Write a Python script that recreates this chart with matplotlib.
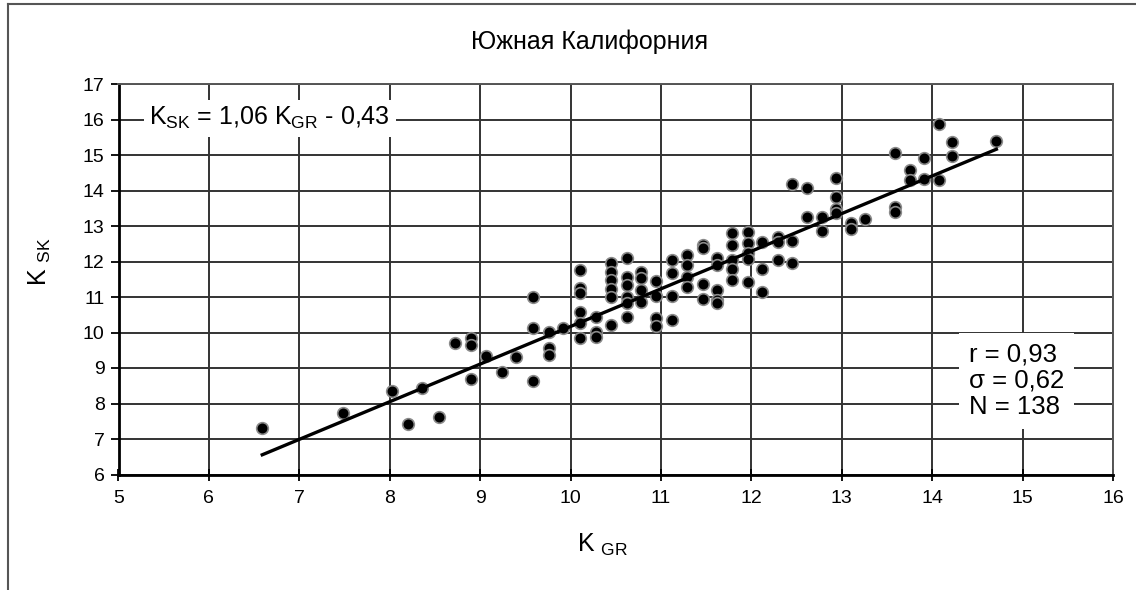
import matplotlib
matplotlib.use("Agg")
import matplotlib.pyplot as plt
from matplotlib.lines import Line2D
import numpy as np

plt.rcParams['font.family'] = ['Liberation Sans', 'DejaVu Sans']
plt.rcParams['mathtext.fontset'] = 'custom'
plt.rcParams['mathtext.rm'] = 'Liberation Sans'
plt.rcParams['mathtext.it'] = 'Liberation Sans'

# ---- data ----
k_gr = [6.59, 7.48, 8.02, 8.20, 8.36, 8.54, 8.72, 8.90, 8.90, 8.90,
        9.07, 9.24, 9.40, 9.58, 9.58, 9.58, 9.76, 9.76, 9.76, 9.92,
        10.11, 10.11, 10.11, 10.11, 10.11, 10.11, 10.28, 10.28, 10.28,
        10.45, 10.45, 10.45, 10.45, 10.45, 10.45,
        10.62, 10.62, 10.62, 10.62, 10.62, 10.62,
        10.78, 10.78, 10.78, 10.78,
        10.95, 10.95, 10.95, 10.95,
        11.12, 11.12, 11.12, 11.12,
        11.29, 11.29, 11.29, 11.29,
        11.46, 11.46, 11.46, 11.46,
        11.62, 11.62, 11.62, 11.62, 11.62,
        11.79, 11.79, 11.79, 11.79, 11.79,
        11.96, 11.96, 11.96, 11.96, 11.96,
        12.12, 12.12, 12.12,
        12.29, 12.29, 12.29,
        12.45, 12.45, 12.45,
        12.62, 12.62, 12.78, 12.78,
        12.94, 12.94, 12.94, 12.94,
        13.10, 13.10, 13.26,
        13.59, 13.59, 13.59, 13.76, 13.76, 13.91, 13.91,
        14.07, 14.07, 14.22, 14.22, 14.71]
k_sk = [7.31, 7.73, 8.35, 7.42, 8.44, 7.62, 9.70, 9.85, 9.65, 8.69,
        9.34, 8.89, 9.31, 11.00, 10.13, 8.63, 10.01, 9.56, 9.37, 10.13,
        11.76, 11.25, 11.11, 10.58, 10.27, 9.85, 10.44, 10.01, 9.87,
        11.96, 11.70, 11.48, 11.23, 11.00, 10.21,
        12.10, 11.56, 11.34, 11.00, 10.83, 10.44,
        11.70, 11.54, 11.20, 10.86,
        11.45, 11.03, 10.41, 10.18,
        12.04, 11.68, 11.03, 10.35,
        12.18, 11.90, 11.56, 11.28,
        12.46, 12.38, 11.37, 10.94,
        12.10, 11.90, 11.20, 10.92, 10.83,
        12.80, 12.46, 12.04, 11.79, 11.48,
        12.83, 12.52, 12.24, 12.07, 11.42,
        12.55, 11.79, 11.14,
        12.69, 12.55, 12.04,
        14.18, 12.58, 11.96,
        14.07, 13.25, 13.25, 12.86,
        14.35, 13.82, 13.48, 13.37,
        13.08, 12.92, 13.20,
        15.06, 13.54, 13.39, 14.58, 14.30, 14.92, 14.32,
        14.30, 15.87, 15.37, 14.97, 15.39]

fit_slope = 1.06
fit_intercept = -0.43
title = "Южная Калифорния"
equation = r"K$_{\mathregular{SK}}$ = 1,06 K$_{\mathregular{GR}}$ - 0,43"
stats = "r = 0,93\nσ = 0,62\nN = 138"
x_ticks = list(range(5, 17))
y_ticks = list(range(6, 18))

# ---- figure ----
fig = plt.figure(figsize=(11.36, 5.90), dpi=100)
ax = fig.add_axes([118.5 / 1136, 1 - 474.5 / 590, (1113 - 118.5) / 1136, (474.5 - 84) / 590])

ax.set_xlim(5, 16)
ax.set_ylim(6, 17)
ax.set_xticks(x_ticks)
ax.set_yticks(y_ticks)
ax.grid(True, color='#333333', linewidth=1.4, zorder=0)
ax.set_axisbelow(True)

for side in ['top', 'right']:
    ax.spines[side].set_color('#555555')
    ax.spines[side].set_linewidth(1.4)
for side in ['left', 'bottom']:
    ax.spines[side].set_color('black')
    ax.spines[side].set_linewidth(2.0)

ax.tick_params(axis='y', direction='out', length=6, width=1.3, labelsize=14, pad=4)
ax.tick_params(axis='x', direction='inout', length=8, width=1.3, labelsize=14, pad=7)

ax.scatter(k_gr, k_sk, s=70, c='black', edgecolors='#8a8a8a', linewidths=1.2, zorder=3)

xf = np.array([min(k_gr), max(k_gr)])
ax.plot(xf, fit_slope * xf + fit_intercept, color='black', linewidth=2.4, zorder=4)

ax.text(0.031, 0.912, equation, transform=ax.transAxes, fontsize=18, va='center', ha='left',
        bbox=dict(facecolor='white', edgecolor='none', pad=4), zorder=5)
ax.text(0.855, 0.240, stats, transform=ax.transAxes, fontsize=18.5, va='center', ha='left',
        linespacing=1.12,
        bbox=dict(facecolor='white', edgecolor='none', pad=7), zorder=5)

fig.text(590 / 1136, 1 - 42 / 590, title, fontsize=18, ha='center', va='center')
fig.text(603 / 1136, 1 - 545 / 590, r"K $_{\mathregular{GR}}$", fontsize=18, ha='center', va='center')
fig.text(40 / 1136, 1 - 262 / 590, r"K $_{\mathregular{SK}}$", fontsize=18, ha='center', va='center',
         rotation=90)

# outer frame
fig.add_artist(Line2D([8 / 1136, 8 / 1136], [0, 1 - 4 / 590], transform=fig.transFigure,
                      color='#555555', linewidth=1.5))
fig.add_artist(Line2D([8 / 1136, 1], [1 - 4 / 590, 1 - 4 / 590], transform=fig.transFigure,
                      color='#555555', linewidth=1.5))

fig.savefig("out.png", dpi=100)
